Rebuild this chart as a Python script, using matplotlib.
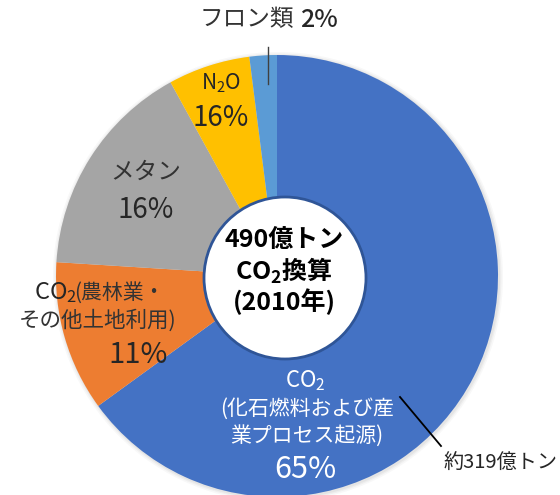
"""
温室効果ガス排出量の内訳（2010年）ドーナツ風円グラフ -> out.png
"""

import matplotlib
matplotlib.use("Agg")
import matplotlib.pyplot as plt
from matplotlib.patches import Circle

plt.rcParams["font.family"] = ["Noto Sans CJK JP", "DejaVu Sans"]
plt.rcParams["mathtext.fontset"] = "custom"
plt.rcParams["mathtext.rm"] = "Noto Sans CJK JP"
plt.rcParams["mathtext.it"] = "Noto Sans CJK JP"
plt.rcParams["mathtext.bf"] = "Noto Sans CJK JP:bold"

# データ（時計回り、真上から）
categories = ["CO2 化石燃料および産業プロセス起源", "CO2 農林業・その他土地利用",
              "メタン", "N2O", "フロン類"]
shares = [65, 11, 16, 6, 2]
pct_labels = ["65%", "11%", "16%", "16%", "2%"]
colors = ["#4472C4", "#ED7D31", "#A5A5A5", "#FFC000", "#5B9BD5"]

W, H = 560, 495
TXT = "#262626"
CX, CY, R = 277, 276, 221


def py(y):
    # 画像座標（上から）-> データ座標
    return H - y


fig = plt.figure(figsize=(W / 100, H / 100), dpi=100)
ax = fig.add_axes([0, 0, 1, 1])

# うっすら影
for dr, a in [(4, 0.05), (2.5, 0.07), (1.2, 0.09)]:
    ax.add_patch(Circle((CX + 1, py(CY) - 1), R + dr, facecolor="#7f7f7f",
                        edgecolor="none", alpha=a, zorder=0))

ax.pie(shares, colors=colors, startangle=90, counterclock=False,
       center=(CX, py(CY)), radius=R,
       wedgeprops=dict(linewidth=0))

# 中央の白い円
ax.add_patch(Circle((285, py(278)), 81, facecolor="white",
                    edgecolor="#2F5597", linewidth=2, zorder=5))

ax.set_xlim(0, W)
ax.set_ylim(0, H)
ax.set_aspect("equal")
ax.axis("off")

# 中央テキスト
for txt, y in [("490億トン", 240), ("CO$_\\mathbf{2}$換算", 271), ("(2010年)", 302)]:
    ax.text(284, py(y), txt, ha="center", va="center", fontsize=18,
            fontweight="bold", color="black", zorder=6)

# フロン類
ax.text(294, py(20), "フロン類", ha="right", va="center", fontsize=17, color="#333333")
ax.text(300, py(20), pct_labels[4], ha="left", va="center", fontsize=18,
        fontweight="medium", color=TXT)
ax.plot([268, 268], [py(47), py(84)], color="#404040", lw=1)

# N2O
ax.text(221, py(83), "N$_2$O", ha="center", va="center", fontsize=15, color=TXT)
ax.text(221, py(118), pct_labels[3], ha="center", va="center", fontsize=20, color=TXT)

# メタン
ax.text(146, py(172), "メタン", ha="center", va="center", fontsize=17, color="#333333")
ax.text(146, py(210), pct_labels[2], ha="center", va="center", fontsize=20, color=TXT)

# CO2 農林業
ax.text(34, py(293), "CO$_2$", ha="left", va="center", fontsize=17, color=TXT)
ax.text(74, py(293), "(農林業・", ha="left", va="center", fontsize=15, color="#333333")
ax.text(98, py(321), "その他土地利用)", ha="center", va="center", fontsize=15.5, color="#333333")
ax.text(138, py(355), pct_labels[1], ha="center", va="center", fontsize=21, color=TXT)

# CO2 化石燃料
ax.text(305, py(381), "CO$_2$", ha="center", va="center", fontsize=16, color="white")
ax.text(307, py(409), "(化石燃料および産", ha="center", va="center", fontsize=15, color="white")
ax.text(307, py(436), "業プロセス起源)", ha="center", va="center", fontsize=15, color="white")
ax.text(305, py(469), pct_labels[0], ha="center", va="center", fontsize=22, color="white")

# 約319億トン
ax.plot([400, 441], [py(397), py(446)], color="black", lw=1.3)
ax.text(444, py(463), "約319億トン", ha="left", va="center", fontsize=14.5, color=TXT)

fig.savefig("out.png", dpi=100)
